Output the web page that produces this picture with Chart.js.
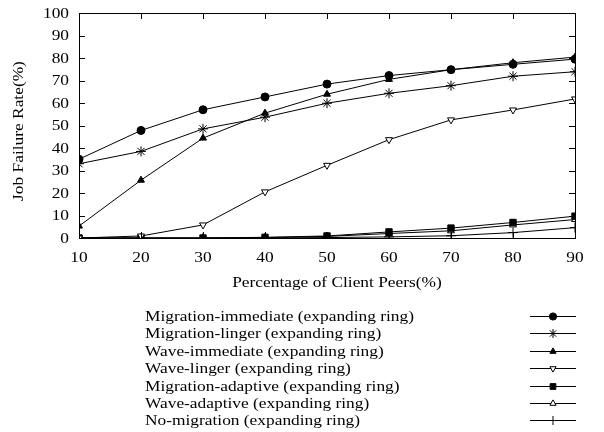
<!DOCTYPE html>
<html>
<head>
<meta charset="utf-8">
<script src="https://cdn.jsdelivr.net/npm/chart.js@4/dist/chart.umd.min.js"></script>
<style>
  html, body { margin: 0; padding: 0; background: #fff; }
  #wrap { width: 604px; height: 432px; position: relative; }
</style>
</head>
<body>
<div id="wrap"><canvas id="failChart" width="604" height="432"></canvas></div>
<script>
// data
const peers = [10, 20, 30, 40, 50, 60, 70, 80, 90];
const migImmediate = [35, 47.8, 57, 62.7, 68.4, 72.2, 74.8, 77.2, 79.5];
const migLinger = [33, 38.5, 48.5, 53.7, 59.9, 64.3, 67.7, 71.9, 73.9];
const waveImmediate = [5.3, 25.7, 44.4, 55.5, 63.9, 70.5, 74.8, 77.9, 80.4];
const waveLinger = [0, 0.9, 5.8, 20.5, 32.3, 43.7, 52.5, 56.9, 61.8];
const migAdaptive = [0, 0, 0, 0.3, 0.9, 2.7, 4.4, 6.9, 9.7];
const waveAdaptive = [0, 0, 0, 0.2, 0.7, 2, 3.2, 5.8, 8.2];
const noMigration = [0, 0, 0, 0, 0.2, 0.5, 1, 2.4, 4.6];

const seriesNames = [
  'Migration-immediate (expanding ring)',
  'Migration-linger (expanding ring)',
  'Wave-immediate (expanding ring)',
  'Wave-linger (expanding ring)',
  'Migration-adaptive (expanding ring)',
  'Wave-adaptive (expanding ring)',
  'No-migration (expanding ring)'
];
const xTitle = 'Percentage of Client Peers(%)';
const yTitle = 'Job Failure Rate(%)';

const SERIF = "'Liberation Serif', 'DejaVu Serif', serif";
const FONT = '14px ' + SERIF;
const STRETCH = 1.24; // the reference text is wider than plain Times

function series(i, values, style, fill, radius, rotation) {
  return {
    label: seriesNames[i],
    data: peers.map((p, k) => ({ x: p, y: values[k] })),
    borderColor: '#000',
    borderWidth: 1,
    pointStyle: style,
    pointRadius: radius,
    pointRotation: rotation || 0,
    pointBackgroundColor: fill,
    pointBorderColor: '#000',
    pointBorderWidth: 1,
    tension: 0,
    fill: false
  };
}

const datasets = [
  series(0, migImmediate, 'circle', '#000', 4),
  series(1, migLinger, 'star', '#000', 5),
  series(2, waveImmediate, 'triangle', '#000', 4),
  series(3, waveLinger, 'triangle', '#fff', 4, 180),
  series(4, migAdaptive, 'rect', '#000', 4.5),
  series(5, waveAdaptive, 'triangle', '#fff', 4),
  series(6, noMigration, 'cross', '#000', 5)
];

function wideText(ctx, text, x, y, align, angle) {
  ctx.save();
  ctx.translate(x, y);
  if (angle) ctx.rotate(angle);
  ctx.scale(STRETCH, 1);
  ctx.font = FONT;
  ctx.fillStyle = '#000';
  ctx.textAlign = align;
  ctx.textBaseline = 'middle';
  ctx.fillText(text, 0, 0);
  ctx.restore();
}

// gnuplot-like frame with inward ticks on all four sides, plus labels
const framePlugin = {
  id: 'frame',
  afterDatasetsDraw(chart) {
    const { ctx, chartArea: a, scales } = chart;
    ctx.save();
    ctx.strokeStyle = '#000';
    ctx.lineWidth = 1;
    ctx.strokeRect(a.left + 0.5, a.top + 0.5, a.right - a.left, a.bottom - a.top);
    ctx.beginPath();
    const len = 6;
    scales.x.ticks.forEach(t => {
      const x = Math.round(scales.x.getPixelForValue(t.value)) + 0.5;
      ctx.moveTo(x, a.bottom); ctx.lineTo(x, a.bottom - len);
      ctx.moveTo(x, a.top); ctx.lineTo(x, a.top + len);
    });
    scales.y.ticks.forEach(t => {
      const y = Math.round(scales.y.getPixelForValue(t.value)) + 0.5;
      ctx.moveTo(a.left, y); ctx.lineTo(a.left + len, y);
      ctx.moveTo(a.right, y); ctx.lineTo(a.right - len, y);
    });
    ctx.stroke();
    ctx.restore();

    scales.x.ticks.forEach(t => {
      wideText(ctx, String(t.value), scales.x.getPixelForValue(t.value), a.bottom + 20, 'center');
    });
    scales.y.ticks.forEach(t => {
      wideText(ctx, String(t.value), a.left - 10, scales.y.getPixelForValue(t.value) + 1, 'right');
    });
    wideText(ctx, xTitle, 337, 283, 'center');
    wideText(ctx, yTitle, 19, 131, 'center', -Math.PI / 2);
  }
};

// legend below the chart: text on the left, line sample on the right
const legendPlugin = {
  id: 'bottomLegend',
  afterDraw(chart) {
    const ctx = chart.ctx;
    chart.data.datasets.forEach((ds, i) => {
      const y = Math.round(316 + i * 17.4) + 0.5;
      wideText(ctx, ds.label, 145, y + 1, 'left');
      ctx.save();
      ctx.strokeStyle = '#000';
      ctx.lineWidth = 1;
      ctx.beginPath();
      ctx.moveTo(530, y);
      ctx.lineTo(576, y);
      ctx.stroke();
      ctx.fillStyle = ds.pointBackgroundColor;
      Chart.helpers.drawPoint(ctx, {
        pointStyle: ds.pointStyle,
        radius: ds.pointRadius * 0.9,
        rotation: ds.pointRotation,
        borderWidth: 1
      }, 553, y);
      ctx.restore();
    });
  }
};

new Chart(document.getElementById('failChart').getContext('2d'), {
  type: 'line',
  data: { datasets: datasets },
  options: {
    responsive: false,
    animation: false,
    devicePixelRatio: 1,
    layout: { padding: { top: 13, right: 29, bottom: 137, left: 0 } },
    plugins: {
      legend: { display: false },
      tooltip: { enabled: false }
    },
    scales: {
      x: {
        type: 'linear',
        min: 10, max: 90,
        grid: { display: false, drawTicks: false },
        border: { display: false },
        ticks: { stepSize: 10, display: false },
        afterFit(s) { s.height = 57; }
      },
      y: {
        min: 0, max: 100,
        grid: { display: false, drawTicks: false },
        border: { display: false },
        ticks: { stepSize: 10, display: false },
        afterFit(s) { s.width = 79; }
      }
    }
  },
  plugins: [framePlugin, legendPlugin]
});
</script>
</body>
</html>
